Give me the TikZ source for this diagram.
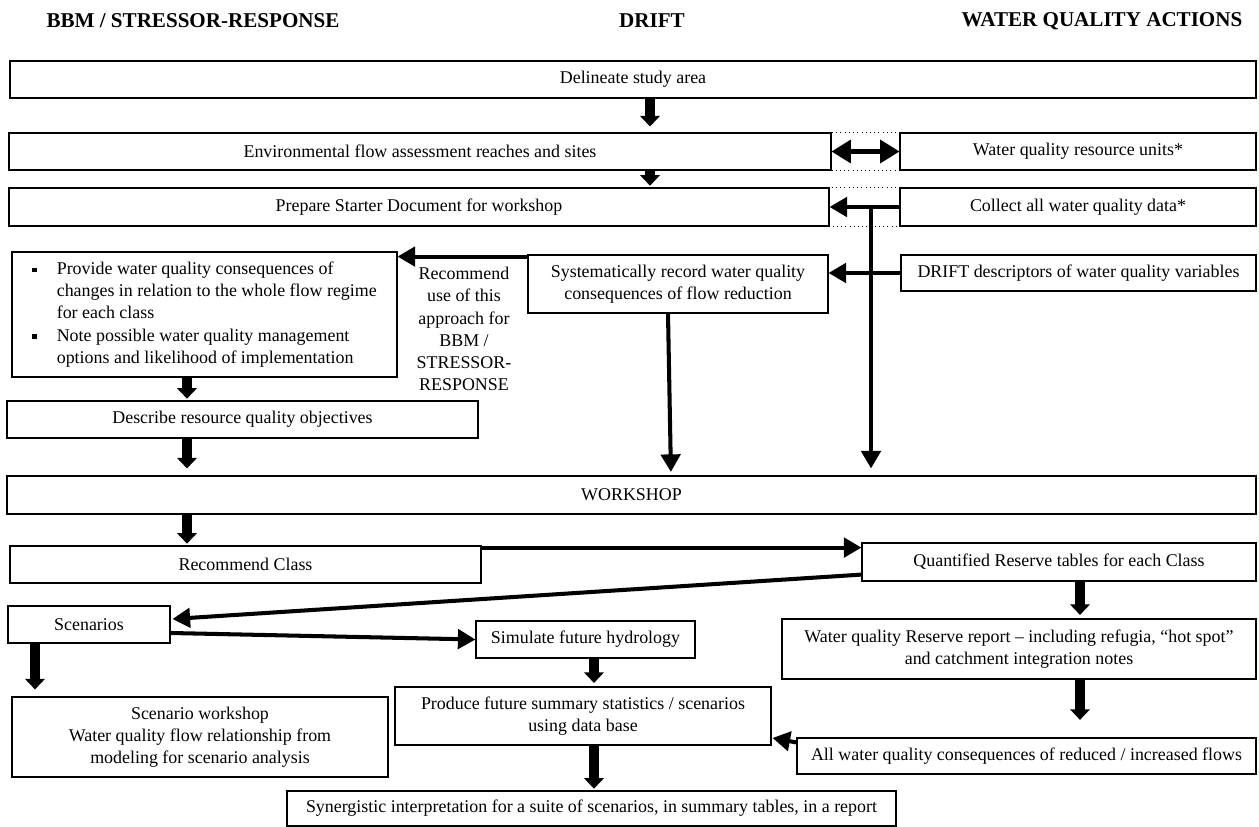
\documentclass[tikz,border=0pt]{standalone}
\usepackage{fontspec}
\setmainfont{Liberation Serif}
\usetikzlibrary{arrows.meta,calc}

\newcommand{\wqfont}{\fontsize{10.2}{12.6}\selectfont}
\newcommand{\sqbullet}{\rule[0.3ex]{2.6pt}{2.6pt}}

\tikzset{
  box/.style={draw, line width=0.6pt, inner sep=0pt, align=center, font=\wqfont},
  boxsize/.style 2 args={minimum width=#1*0.02cm, minimum height=#2*0.02cm},
  colhead/.style={font=\bfseries\fontsize{12}{14}\selectfont},
  blockarrow/.style={line width=5.5pt, -{Triangle[width=11pt,length=6pt]}, shorten >=1pt},
  flowarrow/.style={line width=2.3pt, -{Triangle[width=11pt,length=10pt]}},
}

\begin{document}
\begin{tikzpicture}[x=0.02cm, y=-0.02cm]
    \useasboundingbox (0,0) rectangle (1259,827);

    % Column headings
    \node[colhead] (hbbm) at (193,21) {BBM / STRESSOR-RESPONSE};
    \node[colhead] (hdrift) at (652,21) {DRIFT};
    \node[colhead] (hwq) at (1102,21) {WATER QUALITY ACTIONS};

    % x positions of the short arrows
    \coordinate (cmid) at (650,0);
    \coordinate (cleft) at (187,0);
    \coordinate (cright) at (1080,0);
    \coordinate (csim) at (594,0);
    \coordinate (cscen) at (35,0);
    \coordinate (cwq) at (871,0);

    % Study area, sites and starter document
    \node[box, boxsize={1246}{37}] (delin) at (633,79.5) {Delineate study area};
    \node[box, boxsize={822}{37}] (envflow) at (420,151.5) {Environmental flow assessment reaches and sites};
    \node[box, boxsize={356}{37}] (wqunits) at (1078,151.5) {Water quality resource units*};
    \node[box, boxsize={820}{38}] (prepare) at (419,207) {Prepare Starter Document for workshop};
    \node[box, boxsize={356}{38}] (collect) at (1078,207) {Collect all water quality data*};
    \draw[dotted] (envflow.north east) rectangle (wqunits.south west);
    \draw[dotted] (prepare.north east) rectangle (collect.south west);

    % Consequences of flow reduction
    \node[box, boxsize={385}{125}] (provide) at (204.5,314.5) {%
        \begin{tabular}{@{}p{14pt}@{}l@{}}
            \sqbullet & Provide water quality consequences of\\
                      & changes in relation to the whole flow regime\\
                      & for each class\\
            \sqbullet & Note possible water quality management\\
                      & options and likelihood of implementation
        \end{tabular}};
    \node[align=center, font=\wqfont] (recomtxt) at (464,329) {Recommend\\use of this\\approach for\\BBM /\\STRESSOR-\\RESPONSE};
    \node[box, boxsize={300}{58}] (system) at (678,284) {Systematically record water quality\\consequences of flow reduction};
    \node[box, boxsize={355}{36}] (driftdesc) at (1078.5,273) {DRIFT descriptors of water quality variables};
    \node[box, boxsize={471}{37}] (describe) at (242.5,419.5) {Describe resource quality objectives};

    % Workshop and what follows
    \node[box, boxsize={1249}{38}] (workshop) at (631.5,495) {WORKSHOP};
    \node[box, boxsize={471}{37}] (recclass) at (245.5,564.5) {Recommend Class};
    \node[box, boxsize={394}{38}] (quant) at (1059,562) {Quantified Reserve tables for each Class};
    \node[box, boxsize={162}{37}] (scen) at (89,624.5) {Scenarios};
    \node[box, boxsize={219}{37}] (simulate) at (585.5,639.5) {Simulate future hydrology};
    \node[box, boxsize={474}{60}] (reserve) at (1019,649) {Water quality Reserve report -- including refugia, ``hot spot''\\and catchment integration notes};
    \node[box, boxsize={376}{80}] (scenws) at (200,737) {Scenario workshop\\Water quality flow relationship from\\modeling for scenario analysis};
    \node[box, boxsize={376}{58}] (produce) at (583,716) {Produce future summary statistics / scenarios\\using data base};
    \node[box, boxsize={459}{36}] (allwq) at (1026.5,756) {All water quality consequences of reduced / increased flows};
    \node[box, boxsize={609}{35}] (synerg) at (591.5,808.5) {Synergistic interpretation for a suite of scenarios, in summary tables, in a report};

    % Short block arrows
    \draw[blockarrow, shorten >=3.4pt] (cmid |- delin.south) -- (cmid |- envflow.north);
    \draw[blockarrow] (cmid |- envflow.south) -- (cmid |- prepare.north);
    \draw[blockarrow] (cleft |- provide.south) -- (cleft |- describe.north);
    \draw[blockarrow, shorten >=4pt] (cleft |- describe.south) -- (cleft |- workshop.north);
    \draw[blockarrow] (cleft |- workshop.south) -- (cleft |- recclass.north);
    \draw[blockarrow, shorten >=2pt] (cright |- quant.south) -- (cright |- reserve.north);
    \draw[blockarrow, shorten >=10pt] (cright |- reserve.south) -- (cright |- allwq.north);
    \draw[blockarrow, shorten >=4pt] (cscen |- scen.south) -- (cscen |- scenws.north);
    \draw[blockarrow, shorten >=2pt] (csim |- simulate.south) -- (csim |- produce.north);
    \draw[blockarrow] (csim |- produce.south) -- (csim |- synerg.north);

    % Connectors
    \draw[flowarrow, {Triangle[width=13pt,length=11pt]}-{Triangle[width=13pt,length=11pt]}] (envflow.east) -- (wqunits.west);
    \draw[flowarrow] (collect.west) -- (prepare.east);
    \draw[flowarrow, shorten >=4pt] (cwq |- collect.west) -- (cwq |- workshop.north);
    \draw[flowarrow] ([yshift=-1.2pt]system.north west) -- ([yshift=-1.2pt]system.north west -| provide.east);
    \draw[flowarrow] (driftdesc.west) -- (driftdesc.west -| system.east);
    \draw[flowarrow, shorten >=2pt] ($(system.south)+(-10,0)$) -- ($(system.south |- workshop.north)+(-7,0)$);
    \draw[flowarrow] ([yshift=-1.2pt]recclass.north east) -- ([yshift=-1.2pt]recclass.north east -| quant.west);
    \draw[flowarrow] ($(quant.west)+(0,12.6)$) -- ($(scen.east)+(2,-5.5)$);
    \draw[flowarrow] ($(scen.east)+(0,8.5)$) -- (simulate.west);
    \draw[flowarrow] ($(allwq.north west)+(0,5)$) -- ($(produce.east)+(1,22)$);
\end{tikzpicture}
\end{document}
